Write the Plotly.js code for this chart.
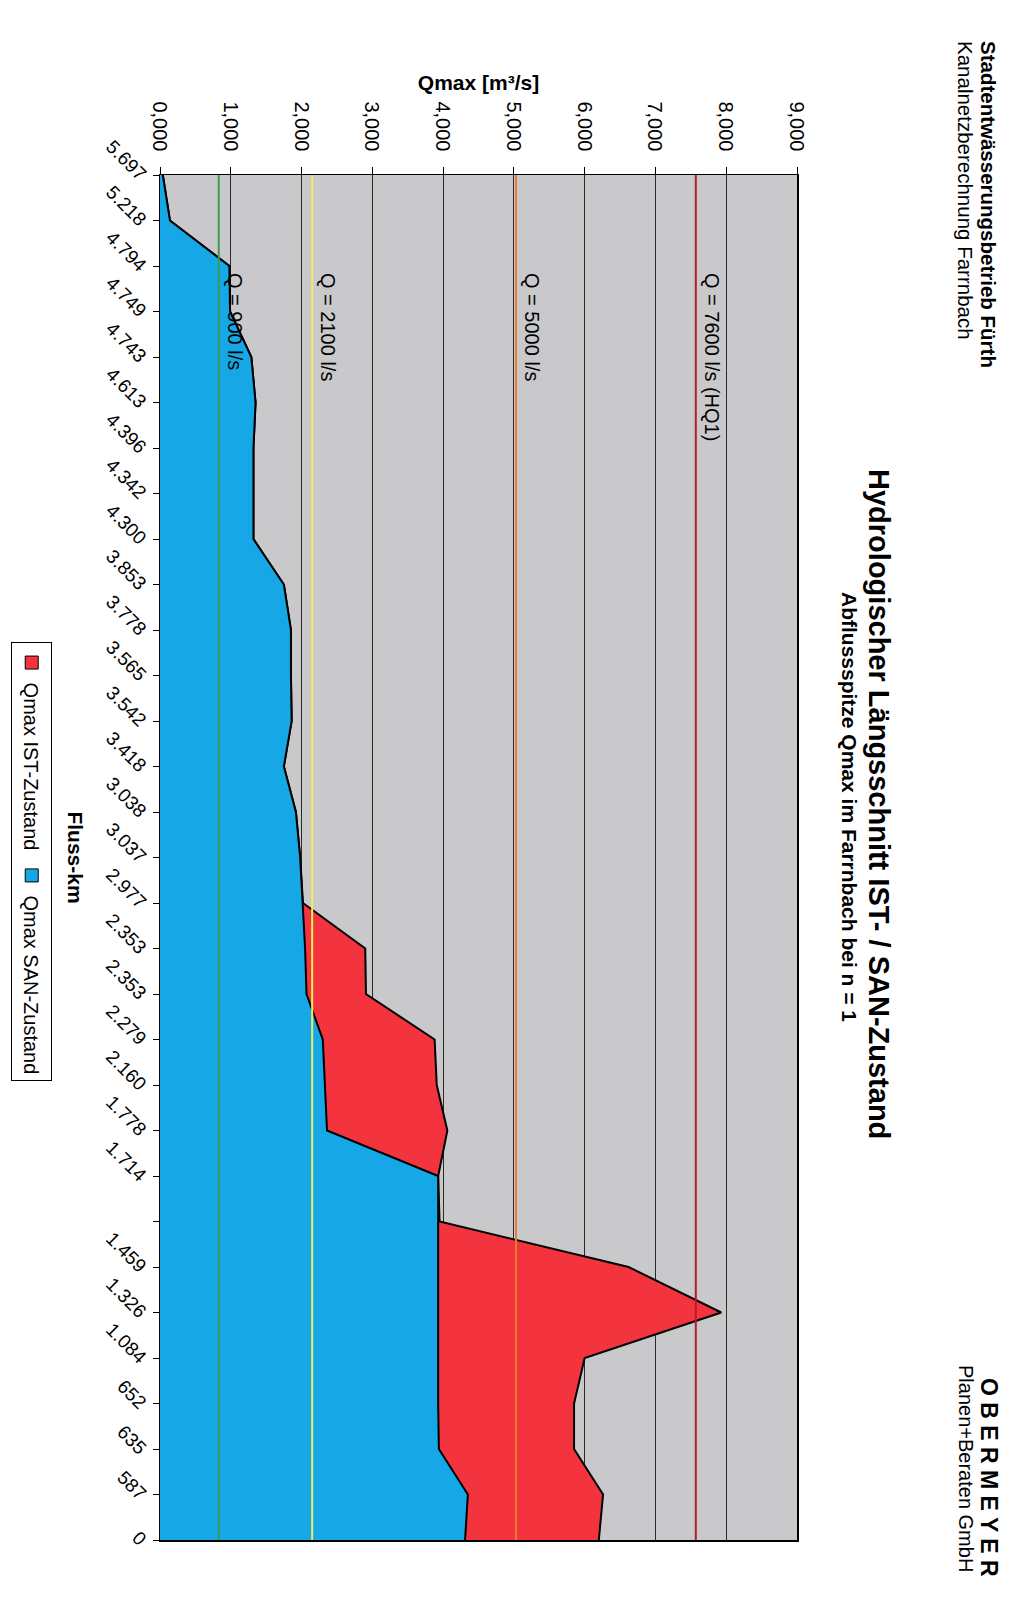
<!DOCTYPE html>
<html><head><meta charset="utf-8">
<script src="https://cdn.plot.ly/plotly-3.0.1.min.js"></script>
<style>
html,body{margin:0;padding:0;width:1024px;height:1602px;overflow:hidden;background:#fff;}
#wrap{position:absolute;left:0;top:0;width:1024px;height:1602px;overflow:hidden;}
#chart{position:absolute;left:0;top:0;width:1602px;height:1024px;transform-origin:0 0;transform:translate(1024px,0) rotate(90deg);}
</style></head><body><div id="wrap"><div id="chart"></div></div>
<script>
// Fluss-km categories (one blank category in the original chart)
const kmLabels = ['5.697','5.218','4.794','4.749','4.743','4.613','4.396','4.342','4.300','3.853',
  '3.778','3.565','3.542','3.418','3.038','3.037','2.977','2.353','2.353','2.279',
  '2.160','1.778','1.714','','1.459','1.326','1.084','652','635','587','0'];
// Qmax SAN-Zustand [m³/s]
const qmaxSAN = [0.04,0.14,0.98,0.99,1.29,1.35,1.32,1.32,1.32,1.75,
  1.85,1.85,1.86,1.75,1.92,1.98,2.02,2.05,2.07,2.30,
  2.33,2.36,3.93,3.93,3.92,3.92,3.92,3.93,3.94,4.35,4.31];
// Qmax IST-Zustand [m³/s]
const qmaxIST = [0.04,0.14,0.98,0.99,1.29,1.35,1.32,1.32,1.32,1.75,
  1.85,1.85,1.86,1.75,1.92,1.98,2.02,2.90,2.91,3.88,
  3.91,4.06,3.93,3.95,6.62,7.93,6.00,5.85,5.85,6.26,6.20];
// Reference discharge lines
const refValues = [0.83, 2.15, 5.03, 7.57];
const refLabels = ['Q = 900 l/s','Q = 2100 l/s','Q = 5000 l/s','Q = 7600 l/s (HQ1)'];

const refColors = ['#3c9a55','#f2ec5a','#ec7a35','#b81830'];
const FONT = 'Liberation Sans, Arial, Helvetica, sans-serif';
const RED = '#f3343f', BLUE = '#16a8e6';
const idx = kmLabels.map((_, i) => i);

const traces = [
  {x: idx, y: qmaxIST, type:'scatter', mode:'lines', fill:'tozeroy', fillcolor: RED,
   line:{color:'#000', width:2}, name:'Qmax IST-Zustand', showlegend:false, hoverinfo:'y'},
  {x: idx, y: qmaxSAN, type:'scatter', mode:'lines', fill:'tozeroy', fillcolor: BLUE,
   line:{color:'#000', width:2}, name:'Qmax SAN-Zustand', showlegend:false, hoverinfo:'y'},
  {x:[null], y:[null], type:'scatter', mode:'markers', name:'Qmax IST-Zustand',
   marker:{symbol:'square', size:13, color:RED, line:{color:'#000', width:1}}},
  {x:[null], y:[null], type:'scatter', mode:'markers', name:'Qmax SAN-Zustand',
   marker:{symbol:'square', size:13, color:BLUE, line:{color:'#000', width:1}}}
];

const shapes = refValues.map((v, i) => ({type:'line', xref:'paper', x0:0, x1:1, yref:'y', y0:v, y1:v,
  line:{color:refColors[i], width:2}, layer:'above'}));

const annotations = refValues.map((v, i) => ({x:2.12, y:v, xref:'x', yref:'y', text:refLabels[i],
  xanchor:'left', yanchor:'bottom', yshift:3, showarrow:false, font:{family:FONT, size:20, color:'#000'}}));

annotations.push(
  {xref:'paper', yref:'paper', x:0.463, y:1.083, xanchor:'center', yanchor:'middle', showarrow:false,
   text:'Abflussspitze Qmax im Farrnbach bei n = 1', font:{family:FONT, size:21, weight:'bold', color:'#000'}},
  {xref:'paper', yref:'paper', x:-0.0996, y:1.3014, xanchor:'left', yanchor:'middle', showarrow:false,
   text:'Stadtentwässerungsbetrieb Fürth', font:{family:FONT, size:20.5, weight:'bold', color:'#000'}},
  {xref:'paper', yref:'paper', x:-0.0996, y:1.2653, xanchor:'left', yanchor:'middle', showarrow:false,
   text:'Kanalnetzberechnung Farrnbach', font:{family:FONT, size:20.5, color:'#000'}},
  {xref:'paper', yref:'paper', x:1.0286, y:1.3014, xanchor:'right', yanchor:'middle', showarrow:false,
   text:'O B E R M E Y E R', font:{family:FONT, size:23, weight:'bold', color:'#000'}},
  {xref:'paper', yref:'paper', x:1.0249, y:1.2653, xanchor:'right', yanchor:'middle', showarrow:false,
   text:'Planen+Beraten GmbH', font:{family:FONT, size:20, color:'#000'}}
);

const layout = {
  width:1602, height:1024,
  margin:{l:175, r:62, t:227, b:160},
  paper_bgcolor:'#ffffff', plot_bgcolor:'#c9c9cb',
  font:{family:FONT, size:20, color:'#000'},
  separators:',.',
  title:{text:'Hydrologischer Längsschnitt IST- / SAN-Zustand', xref:'container', yref:'container',
    x:0.502, xanchor:'center', y:0.8584, yanchor:'middle', font:{family:FONT, size:29, weight:'bold', color:'#000'}},
  xaxis:{range:[0,30], tickmode:'array', tickvals:idx, ticktext:kmLabels, tickangle:-45,
    ticks:'outside', ticklen:6, tickcolor:'#000', showgrid:false, zeroline:false,
    showline:true, linecolor:'#000', linewidth:1.5, mirror:true, automargin:false,
    ticklabelstandoff:-6,
    tickfont:{family:FONT, size:19, color:'#000'},
    title:{text:'Fluss-km', standoff:20, font:{family:FONT, size:21, weight:'bold', color:'#000'}}},
  yaxis:{range:[0,9], dtick:1, tickformat:'.3f', ticks:'outside', ticklen:7, tickcolor:'#000',
    showgrid:true, gridcolor:'#2a2a2a', gridwidth:1, zeroline:false,
    showline:true, linecolor:'#000', linewidth:1.5, mirror:true, automargin:false,
    ticklabelstandoff:11,
    tickfont:{family:FONT, size:20, color:'#000'},
    title:{text:'Qmax [m³/s]', standoff:5, font:{family:FONT, size:21, weight:'bold', color:'#000'}}},
  legend:{orientation:'h', xref:'container', yref:'container', x:0.5375, xanchor:'center', y:0.051, yanchor:'top',
    bgcolor:'#fff', bordercolor:'#000', borderwidth:1, font:{family:FONT, size:20, color:'#000'},
    itemwidth:30, tracegroupgap:0},
  shapes: shapes,
  annotations: annotations,
  showlegend:true
};

Plotly.newPlot('chart', traces, layout, {displayModeBar:false, staticPlot:true});
</script></body></html>
